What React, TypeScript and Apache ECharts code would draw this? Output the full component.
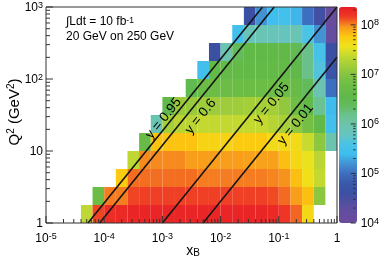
import React, { useEffect, useRef } from "react";
import * as echarts from "echarts";

const FONT = "'Liberation Sans', Arial, Helvetica, sans-serif";

// Binning: 5 bins per decade in x_B (1e-5..1), 4 bins per decade in Q2 (1..1000)
const xLogEdges = Array.from({ length: 26 }, (_, k) => -5 + k * 0.2);
const q2LogEdges = Array.from({ length: 13 }, (_, k) => k * 0.25);

// log10(number of events) per cell; one array per Q2 bin (low -> high), 25 x_B bins each
const n = null;
const logN_q2bin00 = [n, n, n, 7.35, 8.14, 8.25, 8.28, 8.3, 8.3, 8.3, 8.3, 8.3, 8.3, 8.3, 8.3, 8.3, 8.3, 8.3, 8.3, 8.27, 8.2, 8.07, 7.65, n, n];
const logN_q2bin01 = [n, n, n, n, 6.75, 8.02, 8.02, 8.14, 8.15, 8.15, 8.15, 8.15, 8.15, 8.15, 8.15, 8.15, 8.15, 8.15, 8.15, 8.13, 8.06, 7.93, 7.8, 7.05, n];
const logN_q2bin02 = [n, n, n, n, n, n, 7.75, 8.05, 8.05, 8.05, 8.05, 8.05, 8.05, 8.02, 8.02, 8.02, 8.02, 8.02, 8.02, 8.0, 7.97, 7.8, 7.6, 7.38, n];
const logN_q2bin03 = [n, n, n, n, n, n, n, 7.35, 7.99, 7.99, 7.99, 7.99, 7.93, 7.93, 7.93, 7.93, 7.93, 7.92, 7.92, 7.92, 7.8, 7.65, 7.55, 7.33, n];
const logN_q2bin04 = [n, n, n, n, n, n, n, n, 6.7, 7.78, 7.78, 7.78, 7.78, 7.68, 7.68, 7.68, 7.74, 7.74, 7.74, 7.63, 7.63, 7.63, 7.4, 7.05, 5.95];
const logN_q2bin05 = [n, n, n, n, n, n, n, n, n, 5.92, 7.2, 7.32, 7.32, 7.38, 7.38, 7.38, 7.38, 7.38, 7.38, 7.3, 7.22, 7.08, 6.85, 6.6, 5.45];
const logN_q2bin06 = [n, n, n, n, n, n, n, n, n, n, 6.55, 7.12, 7.12, 7.16, 7.16, 7.16, 7.16, 7.2, 7.2, 7.2, 7.08, 6.8, 6.6, 6.15, 5.38];
const logN_q2bin07 = [n, n, n, n, n, n, n, n, n, n, n, n, 6.5, 6.75, 6.75, 6.75, 6.75, 6.75, 6.75, 6.75, 6.75, 6.7, 6.4, 5.95, 5.0];
const logN_q2bin08 = [n, n, n, n, n, n, n, n, n, n, n, n, n, 5.45, 6.65, 6.65, 6.65, 6.65, 6.65, 6.65, 6.65, 6.55, 6.2, 5.65, 4.75];
const logN_q2bin09 = [n, n, n, n, n, n, n, n, n, n, n, n, n, n, 4.6, 5.95, 6.4, 6.6, 6.6, 6.6, 6.6, 6.45, 6.2, 5.55, 4.6];
const logN_q2bin10 = [n, n, n, n, n, n, n, n, n, n, n, n, n, n, n, n, 5.45, 5.85, 5.9, 5.85, 5.8, 5.9, 5.6, 5.2, 4.2];
const logN_q2bin11 = [n, n, n, n, n, n, n, n, n, n, n, n, n, n, n, n, n, 4.6, 5.2, 5.42, 5.48, 5.35, 5.0, 4.55, 4.1];
const logNRows = [
  logN_q2bin00, logN_q2bin01, logN_q2bin02, logN_q2bin03, logN_q2bin04, logN_q2bin05,
  logN_q2bin06, logN_q2bin07, logN_q2bin08, logN_q2bin09, logN_q2bin10, logN_q2bin11,
];

// Constant-inelasticity lines: Q2 = s * x * y, 20 GeV on 250 GeV
const beamE1 = 20;
const beamE2 = 250;
const sGeV2 = 4 * beamE1 * beamE2;
const yValues = [0.95, 0.6, 0.05, 0.01];
const yLabels = ["y = 0.95", "y = 0.6", "y = 0.05", "y = 0.01"];
const yLabelPos = [[163, 118], [200, 116], [271, 103], [295, 124]];

const X_MIN = 1e-5, X_MAX = 1, Q2_MIN = 1, Q2_MAX = 1000;
const Z_LOG_MIN = 4, Z_LOG_MAX = 8.36;
const palette = [
  "#6c4b9d", "#644d9f", "#554fa1", "#3b50a3", "#3a57a9", "#3d6dbf", "#4290d2", "#3fbdee",
  "#48c3e8", "#66c4c0", "#6cc4ac", "#6ac28e", "#62bb5a", "#60b948", "#6cbd45", "#80c342",
  "#a0cd3a", "#c2d831", "#eee31b", "#fcc810", "#f7961d", "#ef3b26", "#e81c24",
];

function logTickList(minExp: number, maxVal: number) {
  const out: { v: number; major: boolean }[] = [];
  for (let e = minExp; 10 ** e <= maxVal * 1.0001; e++) {
    out.push({ v: 10 ** e, major: true });
    for (let m = 2; m <= 9; m++) {
      const v = m * 10 ** e;
      if (v < maxVal * 0.9999) out.push({ v, major: false });
    }
  }
  return out;
}

const supStyle = { fontSize: 9, lineHeight: 8, verticalAlign: "top", fontFamily: FONT, color: "#000" };

function expOf(v: number) {
  const e = Math.log10(v);
  const r = Math.round(e);
  return Math.abs(e - r) < 1e-6 ? r : null;
}

export default function App() {
  const ref = useRef<HTMLDivElement>(null);
  useEffect(() => {
    document.body.style.margin = "0";
    const chart = echarts.init(ref.current!, undefined, { renderer: "svg" });

    const heatData: number[][] = [];
    logNRows.forEach((row, j) =>
      row.forEach((v, i) => {
        if (v == null) return;
        const xc = 10 ** ((xLogEdges[i] + xLogEdges[i + 1]) / 2);
        const qc = 10 ** ((q2LogEdges[j] + q2LogEdges[j + 1]) / 2);
        heatData.push([xc, qc, v, i, j]);
      })
    );

    const lineSeries = yValues.map((y) => {
      const x0 = Q2_MIN / (sGeV2 * y);
      const qAtXmax = sGeV2 * y * X_MAX;
      const end = qAtXmax <= Q2_MAX ? [X_MAX, qAtXmax] : [Q2_MAX / (sGeV2 * y), Q2_MAX];
      return {
        type: "line",
        xAxisIndex: 0,
        yAxisIndex: 0,
        data: [[x0, Q2_MIN], end],
        symbol: "none",
        silent: true,
        z: 4,
        lineStyle: { color: "#151515", width: 1.6 },
      };
    });

    const tickData: number[][] = [];
    logTickList(-5, X_MAX).forEach((t) => tickData.push([t.v, Q2_MIN, t.major ? 7 : 4, 0]));
    logTickList(0, Q2_MAX).forEach((t) => tickData.push([X_MIN, t.v, t.major ? 7 : 4, 1]));
    const cbTickData: number[][] = [];
    logTickList(Z_LOG_MIN, 10 ** Z_LOG_MAX).forEach((t) => cbTickData.push([1, t.v, t.major ? 5 : 2.5, 2]));

    const tickRender = (params: any, api: any) => {
      const p = api.coord([api.value(0), api.value(1)]);
      const len = api.value(2);
      const dir = api.value(3);
      let x2 = p[0], y2 = p[1];
      if (dir === 0) y2 = p[1] - len;
      else if (dir === 1) x2 = p[0] + len;
      else x2 = p[0] - len;
      return {
        type: "line",
        shape: { x1: p[0], y1: p[1], x2, y2 },
        style: { stroke: "#333", lineWidth: 1 },
      };
    };

    const option: any = {
      animation: false,
      grid: [
        { left: 46, top: 7, width: 291, height: 216, show: true, borderColor: "#333", borderWidth: 1, backgroundColor: "transparent", z: 10 },
        { left: 339, top: 7, width: 18, height: 216, show: false },
      ],
      xAxis: [
        {
          type: "log", logBase: 10, gridIndex: 0, min: X_MIN, max: X_MAX, splitNumber: 5,
          axisLine: { show: false }, axisTick: { show: false }, splitLine: { show: false },
          axisLabel: {
            fontSize: 12, fontFamily: FONT, color: "#000", margin: 8, lineHeight: 14,
            showMinLabel: true, showMaxLabel: true,
            formatter: (v: number) => {
              const e = expOf(v);
              if (e === null) return "";
              return e === 0 ? "1" : `10{sup|${e}}`;
            },
            rich: { sup: supStyle },
          },
        },
        { type: "value", gridIndex: 1, min: 0, max: 1, show: false },
      ],
      yAxis: [
        {
          type: "log", logBase: 10, gridIndex: 0, min: Q2_MIN, max: Q2_MAX, splitNumber: 3,
          axisLine: { show: false }, axisTick: { show: false }, splitLine: { show: false },
          axisLabel: {
            fontSize: 12, fontFamily: FONT, color: "#000", margin: 3, lineHeight: 14,
            showMinLabel: true, showMaxLabel: true,
            formatter: (v: number) => {
              const e = expOf(v);
              if (e === null) return "";
              if (e === 0) return "1";
              if (e === 1) return "10";
              return `10{sup|${e}}`;
            },
            rich: { sup: supStyle },
          },
        },
        {
          type: "log", logBase: 10, gridIndex: 1, min: 10 ** Z_LOG_MIN, max: 10 ** Z_LOG_MAX, splitNumber: 4,
          position: "right",
          axisLine: { show: false }, axisTick: { show: false }, splitLine: { show: false },
          axisLabel: {
            fontSize: 12, fontFamily: FONT, color: "#000", margin: 5, lineHeight: 14,
            showMinLabel: true, showMaxLabel: false,
            formatter: (v: number) => {
              const e = expOf(v);
              if (e === null) return "";
              return `10{sup|${e}}`;
            },
            rich: { sup: supStyle },
          },
        },
      ],
      visualMap: {
        type: "continuous",
        min: Z_LOG_MIN,
        max: Z_LOG_MAX,
        dimension: 2,
        seriesIndex: 0,
        inRange: { color: palette },
        left: 339,
        top: 7,
        itemWidth: 18,
        itemHeight: 216,
        calculable: false,
        padding: 0,
        hoverLink: false,
      },
      series: [
        {
          type: "custom",
          xAxisIndex: 0,
          yAxisIndex: 0,
          encode: { x: 0, y: 1 },
          data: heatData,
          silent: true,
          z: 2,
          renderItem: (params: any, api: any) => {
            const i = api.value(3), j = api.value(4);
            const a = api.coord([10 ** xLogEdges[i], 10 ** q2LogEdges[j]]);
            const b = api.coord([10 ** xLogEdges[i + 1], 10 ** q2LogEdges[j + 1]]);
            return {
              type: "rect",
              shape: { x: a[0], y: b[1], width: b[0] - a[0], height: a[1] - b[1] },
              style: { fill: api.visual("color") },
            };
          },
        },
        ...lineSeries,
        {
          type: "custom", xAxisIndex: 0, yAxisIndex: 0, encode: { x: 0, y: 1 },
          data: tickData, silent: true, z: 6, renderItem: tickRender,
        },
        {
          type: "custom", xAxisIndex: 1, yAxisIndex: 1, encode: { x: 0, y: 1 },
          data: cbTickData, silent: true, z: 6, renderItem: tickRender,
        },
      ],
      graphic: [
        {
          type: "text", x: 66, y: 21,
          style: {
            text: "∫Ldt = 10 fb{sup|-1}", fontSize: 12, fontFamily: FONT, fill: "#000",
            align: "left", verticalAlign: "middle",
            rich: { sup: { fontSize: 8.5, lineHeight: 8, verticalAlign: "top", fontFamily: FONT, fill: "#000" } },
          },
        },
        {
          type: "text", x: 66, y: 35.5,
          style: { text: "20 GeV on 250 GeV", fontSize: 12, fontFamily: FONT, fill: "#000", align: "left", verticalAlign: "middle" },
        },
        ...yLabels.map((t, k) => ({
          type: "text", x: yLabelPos[k][0], y: yLabelPos[k][1], rotation: (51 * Math.PI) / 180, z: 20,
          style: { text: t, fontSize: 13.5, fontFamily: FONT, fill: "#000", align: "center", verticalAlign: "middle" },
        })),
        {
          type: "text", x: 13, y: 112, rotation: Math.PI / 2,
          style: {
            text: "Q{sup|2} (GeV{sup|2})", fontSize: 15, fontFamily: FONT, fill: "#000",
            align: "center", verticalAlign: "middle",
            rich: { sup: { fontSize: 10, lineHeight: 9, verticalAlign: "top", fontFamily: FONT, fill: "#000" } },
          },
        },
        {
          type: "text", x: 193, y: 250,
          style: {
            text: "x{sub|B}", fontSize: 14, fontFamily: FONT, fill: "#000",
            align: "center", verticalAlign: "middle",
            rich: { sub: { fontSize: 10, lineHeight: 10, verticalAlign: "bottom", fontFamily: FONT, fill: "#000" } },
          },
        },
      ],
    };

    chart.setOption(option);
    return () => chart.dispose();
  }, []);
  return <div ref={ref} style={{ width: 382, height: 267, position: "fixed", left: 0, top: 0 }} />;
}
